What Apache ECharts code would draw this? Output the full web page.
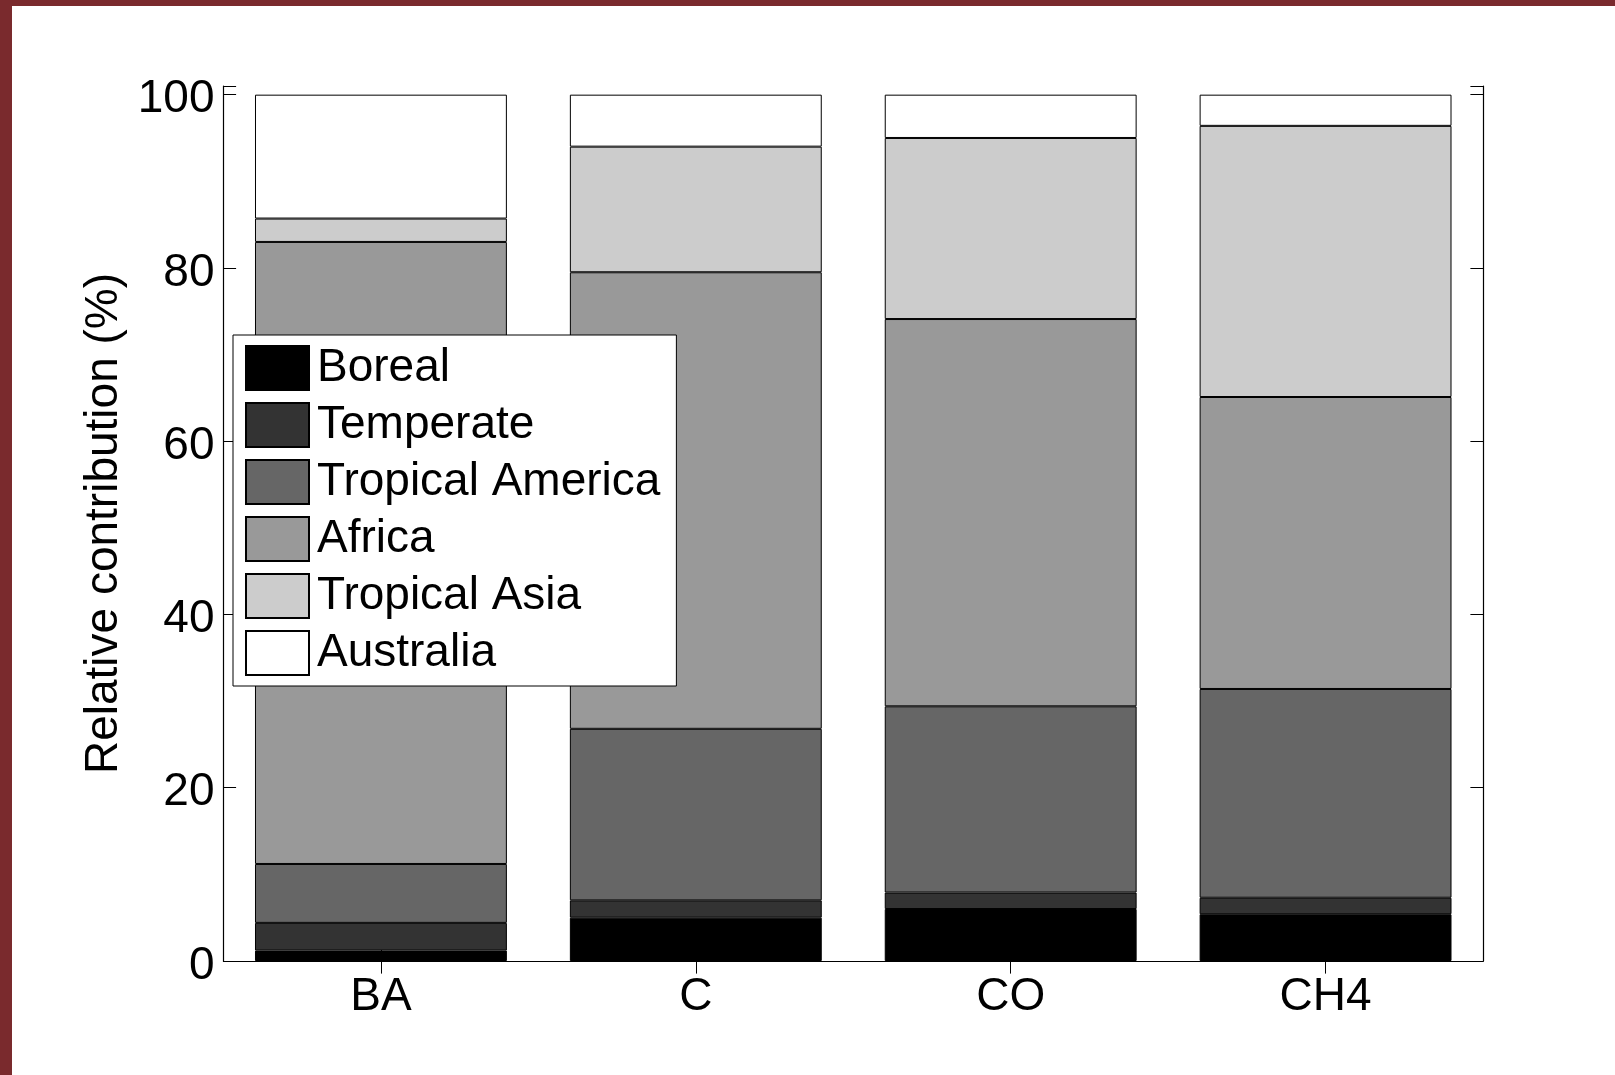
<!DOCTYPE html>
<html>
<head>
<meta charset="utf-8">
<script src="https://cdn.jsdelivr.net/npm/echarts@6/dist/echarts.min.js"></script>
<style>
  html, body { margin: 0; padding: 0; background: #fff; }
  #chart { position: absolute; left: 0; top: 0; width: 1615px; height: 1075px; }
  .band { position: absolute; background: #7a2a2d; z-index: 10; }
</style>
</head>
<body>
<div id="chart"></div>
<div class="band" style="left:0;top:0;width:1615px;height:6px;"></div>
<div class="band" style="left:0;top:0;width:12px;height:1075px;"></div>
<script>
const categories = ['BA', 'C', 'CO', 'CH4'];
const regions = ['Boreal', 'Temperate', 'Tropical America', 'Africa', 'Tropical Asia', 'Australia'];
const colors = ['#000000', '#333333', '#666666', '#999999', '#cccccc', '#ffffff'];
const boreal = [1.2, 5.0, 6.0, 5.4];
const temperate = [3.2, 2.0, 1.9, 1.9];
const tropicalAmerica = [6.8, 19.8, 21.5, 24.1];
const africa = [71.8, 52.7, 44.7, 33.7];
const tropicalAsia = [2.7, 14.5, 20.9, 31.3];
const australia = [14.3, 6.0, 5.0, 3.6];
const yTicks = [0, 20, 40, 60, 80, 100];
const seriesValues = [boreal, temperate, tropicalAmerica, africa, tropicalAsia, australia];

const FONT = 'Liberation Sans, Arial, Helvetica, sans-serif';
const chart = echarts.init(document.getElementById('chart'));

const series = regions.map((name, i) => ({
  name: name,
  type: 'bar',
  stack: 'total',
  barWidth: '80%',
  data: seriesValues[i],
  itemStyle: { color: colors[i], borderColor: '#000', borderWidth: 1 },
  emphasis: { disabled: true }
}));

const yCommon = {
  type: 'value',
  min: 0,
  max: 101,
  interval: 20,
  splitLine: { show: false },
  axisLine: { show: true, lineStyle: { color: '#000', width: 1.2 } },
  axisTick: { show: true, inside: true, length: 12.6, lineStyle: { color: '#000', width: 1 } }
};

chart.setOption({
  animation: false,
  backgroundColor: '#fff',
  textStyle: { fontFamily: FONT },
  grid: { left: 223.5, right: 132, top: 86, bottom: 114, containLabel: false },
  legend: {
    orient: 'vertical',
    left: 233,
    top: 335,
    data: regions,
    icon: 'rect',
    itemWidth: 63,
    itemHeight: 44,
    itemGap: 11,
    padding: [10, 16, 10, 12],
    backgroundColor: '#fff',
    borderColor: '#000',
    borderWidth: 1,
    selectedMode: false,
    textStyle: { fontFamily: FONT, fontSize: 46, color: '#000', lineHeight: 44, padding: [0, 0, 0, 3] }
  },
  xAxis: [
    {
      type: 'category',
      data: categories,
      position: 'bottom',
      axisLine: { show: true, lineStyle: { color: '#000', width: 1.2 } },
      axisTick: { show: true, inside: true, alignWithLabel: true, length: 12.6, lineStyle: { color: '#000' } },
      axisLabel: { fontFamily: FONT, fontSize: 46, color: '#000', margin: 13 }
    },
    {
      type: 'category',
      data: categories,
      position: 'top',
      axisLine: { show: true, lineStyle: { color: '#000', width: 1.2 } },
      axisTick: { show: true, inside: true, alignWithLabel: true, length: 12.6, lineStyle: { color: '#000' } },
      axisLabel: { show: false }
    }
  ],
  yAxis: [
    Object.assign({}, yCommon, {
      position: 'left',
      name: 'Relative contribution (%)',
      nameLocation: 'middle',
      nameGap: 92,
      nameTextStyle: { fontFamily: FONT, fontSize: 46, color: '#000' },
      axisLabel: {
        fontFamily: FONT, fontSize: 46, color: '#000', margin: 9,
        verticalAlign: 'top', lineHeight: 10,
        formatter: v => (yTicks.indexOf(v) >= 0 ? String(v) : '')
      }
    }),
    Object.assign({}, yCommon, {
      position: 'right',
      axisLabel: { show: false }
    })
  ],
  series: series
});
</script>
</body>
</html>
